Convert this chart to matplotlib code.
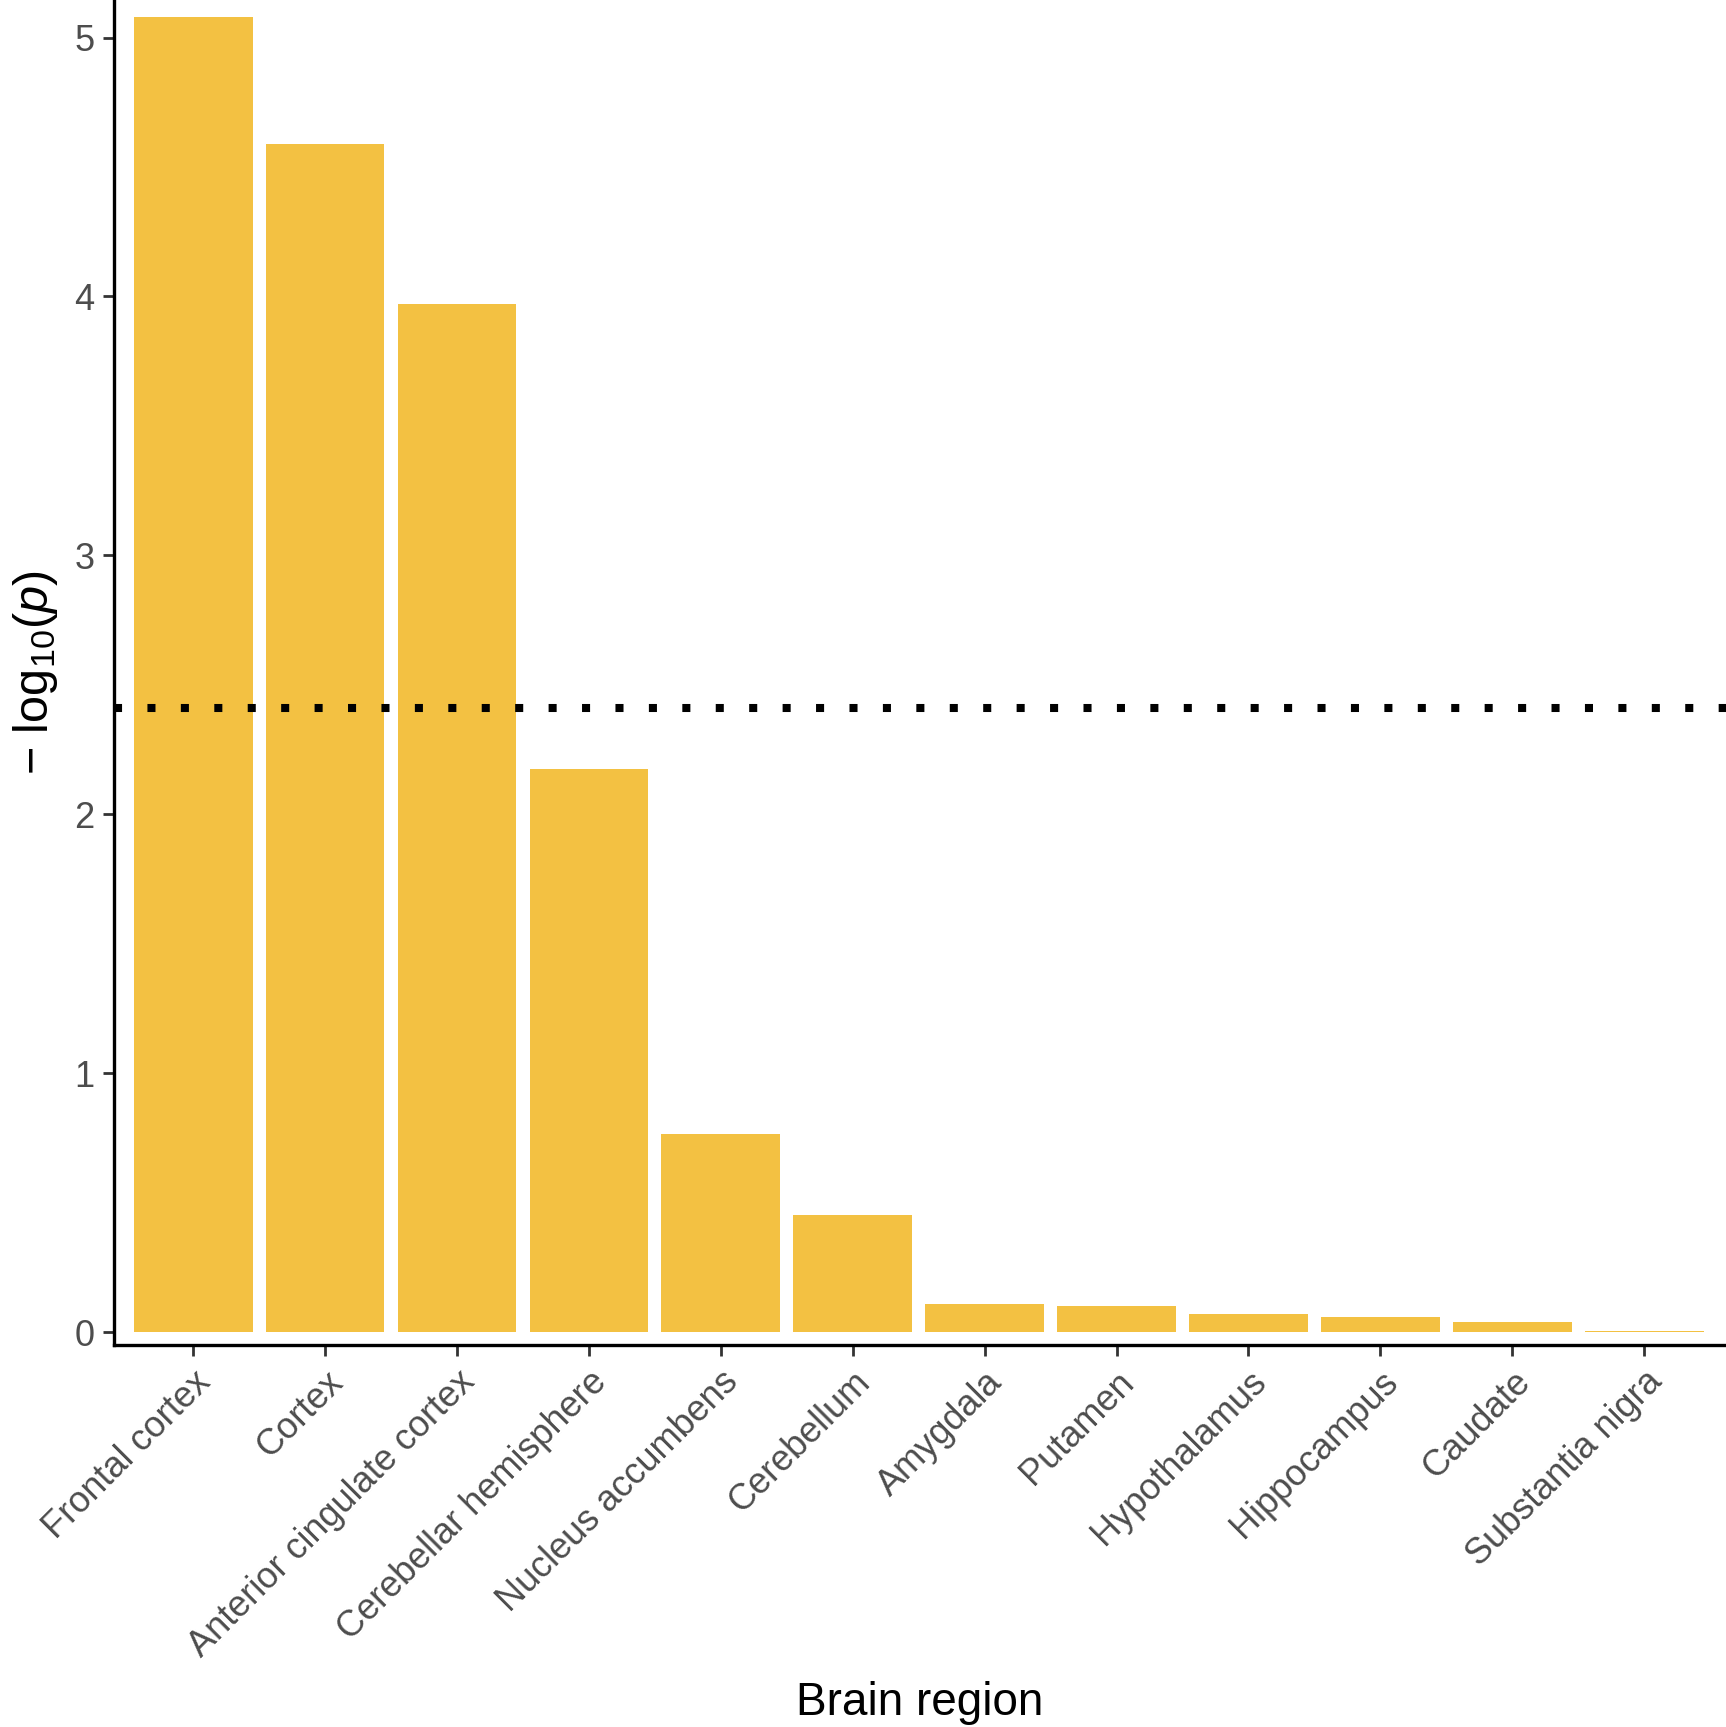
import numpy as np
import matplotlib.pyplot as plt

plt.rcParams['font.family'] = ['Liberation Sans', 'DejaVu Sans']
plt.rcParams['mathtext.fontset'] = 'custom'
plt.rcParams['mathtext.rm'] = 'Liberation Sans'
plt.rcParams['mathtext.it'] = 'Liberation Sans:italic'

regions = ['Frontal cortex', 'Cortex', 'Anterior cingulate cortex',
           'Cerebellar hemisphere', 'Nucleus accumbens', 'Cerebellum',
           'Amygdala', 'Putamen', 'Hypothalamus', 'Hippocampus',
           'Caudate', 'Substantia nigra']
neg_log_p = [5.08, 4.59, 3.97, 2.175, 0.764, 0.454,
             0.108, 0.100, 0.068, 0.058, 0.038, 0.004]
threshold = 2.41

fig = plt.figure(figsize=(17.26, 17.27), dpi=100)
ax = fig.add_axes([114 / 1726, 1 - 1345 / 1727, 1 - 114 / 1726, 1345 / 1727])

x = np.arange(1, len(regions) + 1)
ax.bar(x, neg_log_p, width=0.9, color='#F3C142')
ax.axhline(threshold, color='black', linewidth=5.8, linestyle=(0, (1, 3.15)),
           dash_capstyle='butt')

ax.set_xlim(0.40, 12.62)
ax.set_ylim(-0.05, 5.145)
ax.set_xticks(x)
ax.set_xticklabels(regions, rotation=45, ha='right', va='top',
                   rotation_mode='anchor')
ax.set_yticks([0, 1, 2, 3, 4, 5])

for s in ['top', 'right']:
    ax.spines[s].set_visible(False)
for s in ['left', 'bottom']:
    ax.spines[s].set_linewidth(2.4)
    ax.spines[s].set_color('black')

ax.tick_params(axis='both', length=8, width=2, color='#333333',
               labelsize=26, labelcolor='#4D4D4D', pad=6)

ax.set_xlabel('Brain region', fontsize=33, labelpad=12)
ax.set_ylabel(r'$-\ \mathrm{log}_{10}(\mathit{p})$', fontsize=35,
              labelpad=10)

fig.savefig('out.png', dpi=100, facecolor='white')
